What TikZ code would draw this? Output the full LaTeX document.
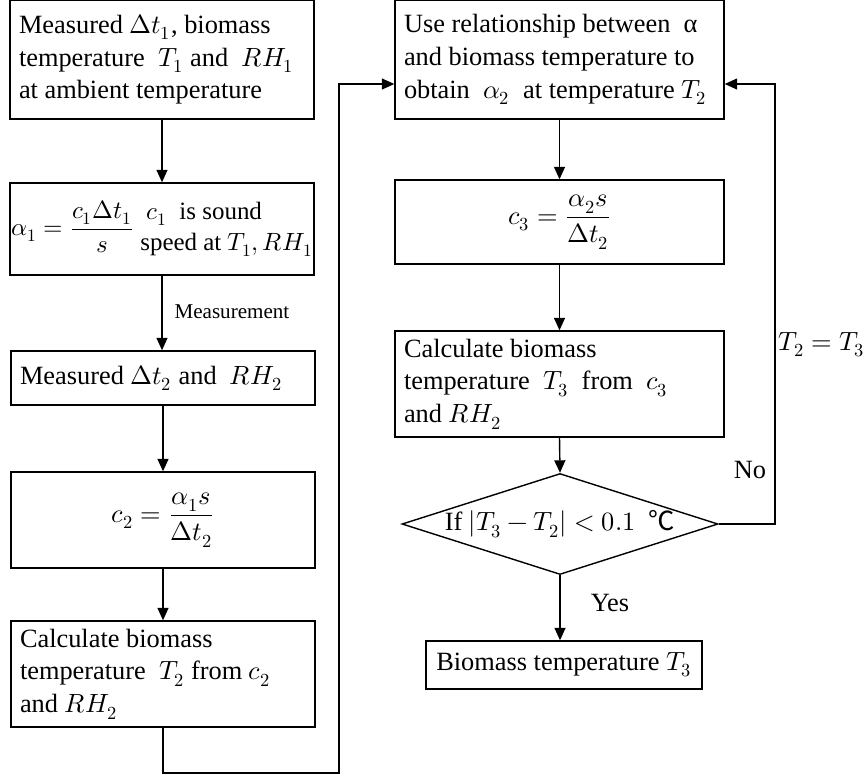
\documentclass[tikz,border=0pt]{standalone}
\usepackage{amsmath}
\usepackage{fontspec}
\usepackage{unicode-math}
\setmainfont{Liberation Serif}
\setmathfont{Latin Modern Math}
\newfontfamily\degfont{Noto Sans CJK SC}
\usepackage{tikz}
\usetikzlibrary{arrows.meta,shapes.geometric}
\tikzset{
  flowbox/.style={draw, thick, rectangle, inner xsep=0.18cm, inner ysep=0pt,
    text width=5.72cm, align=flush left, minimum height=1cm},
  widebox/.style={flowbox, text width=6.22cm}
}

\begin{document}
\begin{tikzpicture}[>={Triangle[length=0.25cm,width=0.22cm]}, thick,
  font=\fontsize{15}{18.7}\selectfont]
\useasboundingbox (0,0) rectangle (17.3,-15.52);
% left column
\node[flowbox, minimum height=2.38cm] (meas1) at (3.24,-1.19)
  {Measured $\Delta t_1$, biomass\\temperature\ \ $T_1$ and\ \ $RH_1$\\at ambient temperature};
\node[draw, inner sep=0pt, minimum width=6.08cm, minimum height=1.84cm,
  font=\fontsize{14.2}{17.5}\selectfont] (alpha1) at (3.24,-4.58)
  {$\alpha_1=\dfrac{c_1\Delta t_1}{s}$\ \begin{tabular}{@{}l@{}}\ $c_1$\ \ is sound\\speed at $T_1,RH_1$\end{tabular}};
\node[flowbox, minimum height=1.08cm] (meas2) at (3.26,-7.56)
  {Measured $\Delta t_2$ and\ \ $RH_2$};
\node[flowbox, align=flush center, minimum height=1.92cm] (c2) at (3.26,-10.4)
  {$c_2=\dfrac{\alpha_1 s}{\Delta t_2}$};
\node[flowbox, minimum height=2.12cm] (temp2) at (3.26,-13.48)
  {Calculate biomass\\temperature\ \ $T_2$ from $c_2$\\and $RH_2$};
% right column
\node[widebox, minimum height=2.38cm] (relate) at (11.19,-1.19)
  {Use relationship between\ \ α\\and biomass temperature to\\obtain\ \ $\alpha_2$\ \ at temperature $T_2$};
\node[widebox, align=flush center, minimum height=1.68cm] (c3) at (11.19,-4.44)
  {$c_3=\dfrac{\alpha_2 s}{\Delta t_2}$};
\node[widebox, minimum height=2.12cm] (temp3) at (11.19,-7.68)
  {Calculate biomass\\temperature\ \ $T_3$\ \ from\ \ $c_3$\\and $RH_2$};
\node[draw, diamond, aspect=3.13, inner sep=0pt, minimum width=6.32cm, minimum height=2.02cm] (check) at (11.2,-10.48)
  {If $|T_3-T_2|<0.1$\ \ {\degfont ℃}};
\node[draw, inner sep=0pt, minimum width=5.52cm, minimum height=0.96cm] (result) at (11.28,-13.3)
  {Biomass temperature $T_3$};
% connectors
\draw[->] (meas1) -- (alpha1);
\draw[->] (alpha1.south) -- (alpha1.south |- meas2.north);
\draw[->] (meas2) -- (c2);
\draw[->] (c2) -- (temp2);
\coordinate (loopin) at (6.78,-15.46);
\draw[->] (temp2.south) |- (loopin) |- ([yshift=-0.49cm]relate.west);
\draw[->] (relate) -- (c3);
\draw[->] (c3) -- (temp3);
\draw[->] (temp3.south) -- (check.north);
\draw[->] (check.south) -- (check.south |- result.north);
\coordinate (loopout) at (15.5,-10.48);
\draw[->] (check.east) -- (loopout) |- ([yshift=-0.49cm]relate.east);
% labels
\node[right, font=\fontsize{12}{14}\selectfont] (measlbl) at (3.36,-6.24) {Measurement};
\node (yeslbl) at (12.2,-12.06) {Yes};
\node (nolbl) at (15.0,-9.4) {No};
\node (eqlbl) at (16.44,-6.9) {$T_2=T_3$};
\end{tikzpicture}
\end{document}
